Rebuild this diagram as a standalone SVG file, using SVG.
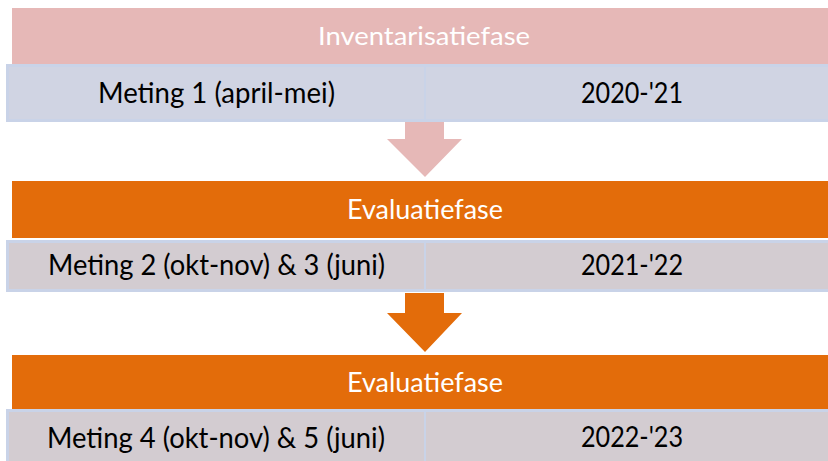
<svg xmlns="http://www.w3.org/2000/svg" width="828" height="461" viewBox="0 0 828 461">
<style>
.hdr-pink{fill:#e6b8b7}
.hdr-orange{fill:#e36c0a}
.row1{fill:#d0d4e3;stroke:#c9d3e8;stroke-width:3}
.row2{fill:#d3ccd1;stroke:#c9d3e8;stroke-width:3}
.div{stroke:#c9d3e8;stroke-width:2}
.ht{font-family:Lato,"Open Sans",sans-serif;fill:#ffffff;text-anchor:middle}
.rt{font-family:Lato,"Open Sans",sans-serif;font-size:28px;fill:#000000;text-anchor:middle}
</style>
<rect width="828" height="461" fill="#ffffff"/>
<g id="connectors">
<polygon fill="#e6b8b7" points="405,122 444,122 444,139 462,139 425,177 387,139 405,139"/>
<polygon fill="#e36c0a" points="405,293 444,293 444,313 462,313 425,352 387,313 405,313"/>
</g>
<g id="phase1">
<rect class="hdr-pink" x="12" y="8" width="830" height="56"/>
<text class="ht" x="424" y="44.5" font-size="25" textLength="212" lengthAdjust="spacingAndGlyphs">Inventarisatiefase</text>
</g>
<g id="row1">
<rect class="row1" x="7.5" y="65.5" width="840" height="55"/>
<line class="div" x1="425" y1="65" x2="425" y2="121"/>
<text class="rt" x="216.5" y="102.5" textLength="237" lengthAdjust="spacingAndGlyphs">Meting 1 (april-mei)</text>
<text class="rt" x="632" y="102.5" textLength="102" lengthAdjust="spacingAndGlyphs">2020-'21</text>
</g>
<g id="phase2">
<rect class="hdr-orange" x="12" y="181" width="830" height="57"/>
<text class="ht" x="425" y="219" font-size="27" textLength="156" lengthAdjust="spacingAndGlyphs">Evaluatiefase</text>
</g>
<g id="row2">
<rect class="row2" x="7.5" y="241.5" width="840" height="49"/>
<line class="div" x1="425" y1="241" x2="425" y2="291"/>
<text class="rt" x="216.5" y="275" textLength="337" lengthAdjust="spacingAndGlyphs">Meting 2 (okt-nov) &amp; 3 (juni)</text>
<text class="rt" x="632" y="275" textLength="102" lengthAdjust="spacingAndGlyphs">2021-'22</text>
</g>
<g id="phase3">
<rect class="hdr-orange" x="12" y="355" width="830" height="54"/>
<text class="ht" x="425" y="392" font-size="27" textLength="156" lengthAdjust="spacingAndGlyphs">Evaluatiefase</text>
</g>
<g id="row3">
<rect class="row2" x="7.5" y="410.5" width="840" height="60"/>
<line class="div" x1="425" y1="410" x2="425" y2="470"/>
<text class="rt" x="216" y="448" textLength="338" lengthAdjust="spacingAndGlyphs">Meting 4 (okt-nov) &amp; 5 (juni)</text>
<text class="rt" x="632" y="447" textLength="102" lengthAdjust="spacingAndGlyphs">2022-'23</text>
</g>
</svg>
